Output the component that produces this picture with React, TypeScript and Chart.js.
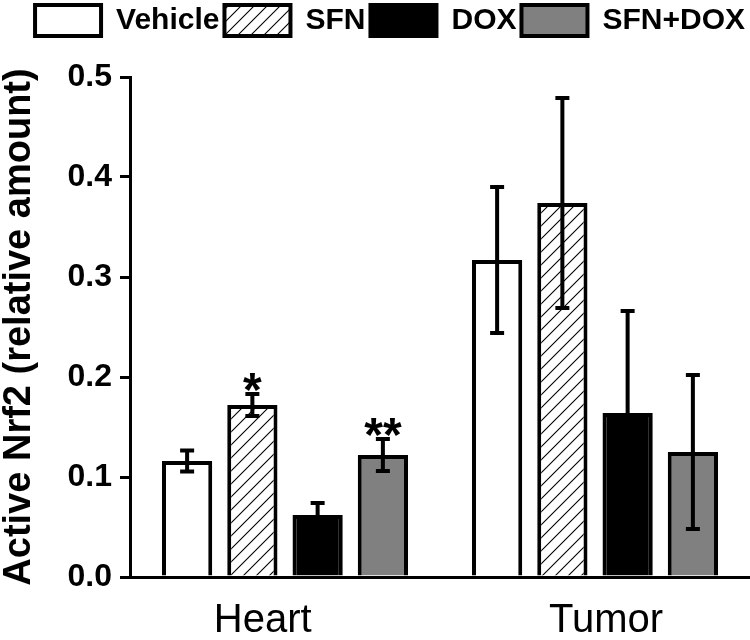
import React, { useEffect, useRef } from 'react';
import { Chart, registerables } from 'chart.js';

Chart.register(...registerables);

// ---- Data ----
const categories = ['Heart', 'Tumor'];
const seriesNames = ['Vehicle', 'SFN', 'DOX', 'SFN+DOX'];
const vehicleMeans = [0.116, 0.317];
const vehicleErrors = [0.0105, 0.073];
const sfnMeans = [0.172, 0.374];
const sfnErrors = [0.011, 0.105];
const doxMeans = [0.062, 0.164];
const doxErrors = [0.012, 0.102];
const comboMeans = [0.122, 0.125];
const comboErrors = [0.016, 0.077];
const sfnMarks = ['*', ''];
const comboMarks = ['**', ''];
const yMin = 0;
const yMax = 0.5;
const yStep = 0.1;
const yTitle = 'Active Nrf2 (relative amount)';

const FONT = '"Liberation Sans", Arial, Helvetica, sans-serif';

function makeHatch(): CanvasPattern | string {
  const size = 13;
  const c = document.createElement('canvas');
  c.width = size;
  c.height = size;
  const g = c.getContext('2d');
  if (!g) return '#fff';
  g.fillStyle = '#fff';
  g.fillRect(0, 0, size, size);
  g.strokeStyle = '#000';
  g.lineWidth = 1.1;
  g.beginPath();
  g.moveTo(0, size);
  g.lineTo(size, 0);
  g.moveTo(-size, size);
  g.lineTo(size, -size);
  g.moveTo(0, 2 * size);
  g.lineTo(2 * size, 0);
  g.stroke();
  const p = g.createPattern(c, 'repeat');
  return p || '#fff';
}

const errorBarPlugin = {
  id: 'errorBars',
  afterDatasetsDraw(chart: any) {
    const ctx = chart.ctx;
    const y = chart.scales.y;
    chart.data.datasets.forEach((ds: any, di: number) => {
      const meta = chart.getDatasetMeta(di);
      meta.data.forEach((el: any, i: number) => {
        const v = ds.data[i];
        const e = ds.errors[i];
        const yt = y.getPixelForValue(v + e);
        const yb = y.getPixelForValue(v - e);
        ctx.save();
        ctx.strokeStyle = '#000';
        ctx.lineWidth = 4;
        ctx.beginPath();
        ctx.moveTo(el.x, yt);
        ctx.lineTo(el.x, yb);
        ctx.moveTo(el.x - 7, yt);
        ctx.lineTo(el.x + 7, yt);
        ctx.moveTo(el.x - 7, yb);
        ctx.lineTo(el.x + 7, yb);
        ctx.stroke();
        const mark = ds.marks ? ds.marks[i] : '';
        if (mark) {
          ctx.fillStyle = '#000';
          ctx.font = 'bold 48px ' + FONT;
          ctx.textAlign = 'center';
          ctx.textBaseline = 'alphabetic';
          ctx.fillText(mark, el.x, yt + 12);
        }
        ctx.restore();
      });
    });
  },
};

const legendSpacer = {
  id: 'legendSpacer',
  beforeLayout(chart: any) {
    const lg = chart.legend;
    if (lg && !lg._spaced) {
      const orig = lg.fit;
      lg.fit = function () {
        orig.call(this);
        this.height += 31;
      };
      lg._spaced = true;
    }
  },
};

const xLabelPad = ['    ', '  '];

export default function App() {
  const ref = useRef<HTMLCanvasElement | null>(null);

  useEffect(() => {
    if (!ref.current) return;
    const hatch = makeHatch();
    const chart = new Chart(ref.current, {
      type: 'bar',
      data: {
        labels: categories,
        datasets: [
          { label: seriesNames[0], data: vehicleMeans, errors: vehicleErrors, backgroundColor: '#ffffff', borderColor: '#000', borderWidth: 4 } as any,
          { label: seriesNames[1], data: sfnMeans, errors: sfnErrors, marks: sfnMarks, backgroundColor: hatch, borderColor: '#000', borderWidth: 4 } as any,
          { label: seriesNames[2], data: doxMeans, errors: doxErrors, backgroundColor: '#000000', borderColor: '#000', borderWidth: 4 } as any,
          { label: seriesNames[3], data: comboMeans, errors: comboErrors, marks: comboMarks, backgroundColor: '#808080', borderColor: '#000', borderWidth: 4 } as any,
        ],
      },
      options: {
        animation: false,
        responsive: false,
        maintainAspectRatio: false,
        layout: { padding: { left: 0, right: 0, top: 0, bottom: 0 } },
        datasets: { bar: { categoryPercentage: 0.842, barPercentage: 0.77 } },
        plugins: {
          tooltip: { enabled: false },
          legend: {
            position: 'top',
            align: 'end',
            labels: {
              boxWidth: 66,
              boxHeight: 31,
              padding: 5,
              color: '#000',
              font: { family: FONT, size: 30, weight: 'bold' },
            },
          },
        },
        scales: {
          x: {
            type: 'category',
            grid: { display: false, drawTicks: false },
            border: { display: true, color: '#000', width: 3 },
            afterFit: (scale: any) => {
              scale.height = 63;
            },
            ticks: {
              color: '#000',
              padding: 24,
              font: { family: FONT, size: 40, lineHeight: 1 },
              callback: function (this: any, val: any, idx: number) {
                const lbl = categories[idx];
                return idx === 0 ? lbl + xLabelPad[0] : xLabelPad[1] + lbl;
              },
            },
          },
          y: {
            min: yMin,
            max: yMax,
            grid: { display: true, drawOnChartArea: false, drawTicks: true, tickLength: 10, color: '#000', lineWidth: 3 },
            border: { display: true, color: '#000', width: 3 },
            afterFit: (scale: any) => {
              scale.width = 130;
            },
            ticks: {
              stepSize: yStep,
              color: '#000',
              padding: 8,
              font: { family: FONT, size: 32, weight: 'bold' },
              callback: (v: any) => Number(v).toFixed(1),
            },
            title: {
              display: true,
              text: yTitle,
              color: '#000',
              font: { family: FONT, size: 38, weight: 'bold', lineHeight: 1 },
              padding: { top: 1, bottom: 28 },
            },
          },
        },
      } as any,
      plugins: [errorBarPlugin, legendSpacer],
    });
    return () => chart.destroy();
  }, []);

  return (
    <div style={{ position: 'absolute', left: 0, top: 0, width: 750, height: 640, background: '#fff' }}>
      <canvas ref={ref} width={750} height={640} style={{ display: 'block' }} />
    </div>
  );
}
